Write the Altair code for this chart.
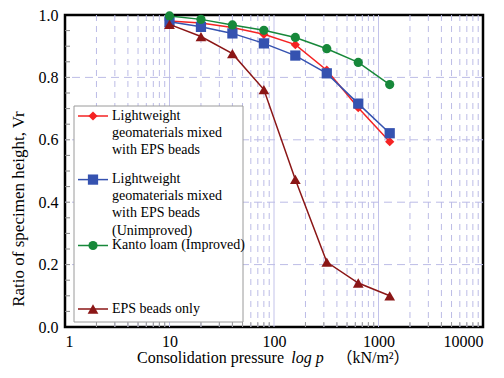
import altair as alt
import pandas as pd

# ---- data ----
pressure = [10, 20, 40, 80, 160, 320, 640, 1280]
lw_eps = [0.981, 0.974, 0.960, 0.938, 0.905, 0.823, 0.703, 0.594]
lw_eps_unimproved = [0.978, 0.962, 0.941, 0.909, 0.870, 0.813, 0.716, 0.621]
kanto_loam = [0.997, 0.986, 0.968, 0.951, 0.928, 0.892, 0.848, 0.777]
eps_only = [0.970, 0.931, 0.876, 0.761, 0.473, 0.208, 0.141, 0.100]

series_names = [
    "Lightweight geomaterials mixed with EPS beads",
    "Lightweight geomaterials mixed with EPS beads (Unimproved)",
    "Kanto loam (Improved)",
    "EPS beads only",
]
series_values = [lw_eps, lw_eps_unimproved, kanto_loam, eps_only]
series_colors = ["#f52323", "#3552b0", "#17883a", "#8b1616"]
series_shapes = ["diamond", "square", "circle", "triangle-up"]
series_sizes = [85, 105, 85, 115]

legend_labels = [
    "Lightweight\ngeomaterials mixed\nwith EPS beads",
    "Lightweight\ngeomaterials mixed\nwith EPS beads\n(Unimproved)",
    "Kanto loam (Improved)",
    "EPS beads only",
]

x_ticks = [1, 10, 100, 1000, 10000]
x_major_grid = [10, 100, 1000]
x_minor = [m * 10 ** d for d in range(4) for m in range(2, 10)]
y_ticks = [0.0, 0.2, 0.4, 0.6, 0.8, 1.0]
y_grid = [0.2, 0.4, 0.6, 0.8]
y_minor = [round(i * 0.05, 2) for i in range(1, 20)]

FONT = "Times New Roman, Liberation Serif, serif"
W, H = 418, 312

xscale = alt.Scale(type="log", domain=[1, 10000])
yscale = alt.Scale(domain=[0, 1])

rows = []
for name, vals in zip(series_names, series_values):
    for p, v in zip(pressure, vals):
        rows.append({"series": name, "p": p, "vr": v})
df = pd.DataFrame(rows)

base_x = alt.X(
    "p:Q",
    scale=xscale,
    axis=alt.Axis(
        values=x_ticks, format="d", grid=False, ticks=False, domain=False,
        labelFont=FONT, labelFontSize=16, labelColor="black", labelPadding=6,
        title=None,
    ),
)
base_y = alt.Y(
    "vr:Q",
    scale=yscale,
    axis=alt.Axis(
        values=y_ticks, format=".1f", grid=False, ticks=False, domain=False,
        labelFont=FONT, labelFontSize=16, labelColor="black", labelPadding=7,
        title=None,
    ),
)

grid_color = "#bcbce6"

minor_v = alt.Chart(pd.DataFrame({"g": x_minor})).mark_rule(
    color=grid_color, strokeWidth=1, strokeDash=[6, 5]
).encode(x=alt.X("g:Q", scale=xscale))

major_v = alt.Chart(pd.DataFrame({"g": x_major_grid})).mark_rule(
    color="#c3c3ea", strokeWidth=1
).encode(x=alt.X("g:Q", scale=xscale))

hgrid = alt.Chart(pd.DataFrame({"g": y_grid})).mark_rule(
    color=grid_color, strokeWidth=1, strokeDash=[8, 5]
).encode(y=alt.Y("g:Q", scale=yscale))

left_ticks = alt.Chart(pd.DataFrame({"t": y_minor})).mark_rule(
    color="#888888", strokeWidth=1
).encode(y=alt.Y("t:Q", scale=yscale), x=alt.value(0), x2=alt.value(5))

bottom_ticks = alt.Chart(pd.DataFrame({"t": x_minor})).mark_rule(
    color="#999999", strokeWidth=1
).encode(x=alt.X("t:Q", scale=xscale), y=alt.value(H), y2=alt.value(H - 5))

layers = [minor_v, major_v, hgrid, left_ticks, bottom_ticks]

# legend box
one = pd.DataFrame({"a": [0]})
layers.append(
    alt.Chart(one).mark_rect(fill="white", stroke="#9a9a9a", strokeWidth=1).encode(
        x=alt.value(9), x2=alt.value(178), y=alt.value(91), y2=alt.value(307)
    )
)

# data
for name, color, shape, size in zip(series_names, series_colors, series_shapes, series_sizes):
    sub = df[df.series == name]
    layers.append(
        alt.Chart(sub).mark_line(color=color, strokeWidth=1.5).encode(x=base_x, y=base_y)
    )
    layers.append(
        alt.Chart(sub).mark_point(
            shape=shape, filled=True, color=color, size=size, opacity=1
        ).encode(x=base_x, y=base_y)
    )

# legend entries
legend_y = [101, 164.6, 230.5, 294]
for lab, color, shape, size, ly in zip(legend_labels, series_colors, series_shapes, series_sizes, legend_y):
    layers.append(
        alt.Chart(one).mark_rule(color=color, strokeWidth=1.5).encode(
            x=alt.value(13), x2=alt.value(43), y=alt.value(ly)
        )
    )
    layers.append(
        alt.Chart(one).mark_point(shape=shape, filled=True, color=color, size=size, opacity=1).encode(
            x=alt.value(28), y=alt.value(ly)
        )
    )
    layers.append(
        alt.Chart(one).mark_text(
            text=lab, lineBreak="\n", lineHeight=17.2, align="left", baseline="top",
            font=FONT, fontSize=14, color="black",
        ).encode(x=alt.value(47), y=alt.value(ly - 7.5))
    )

# axis titles
layers.append(
    alt.Chart(one).mark_text(
        text="Consolidation pressure", align="center", baseline="middle",
        font=FONT, fontSize=16, color="black",
    ).encode(x=alt.value(145.5), y=alt.value(343))
)
layers.append(
    alt.Chart(one).mark_text(
        text="log p", align="center", baseline="middle",
        font=FONT, fontSize=16, fontStyle="italic", color="black",
    ).encode(x=alt.value(242.5), y=alt.value(343))
)
layers.append(
    alt.Chart(one).mark_text(
        text="（kN/m²）", align="center", baseline="middle",
        font="Times New Roman, Liberation Serif, Noto Sans CJK JP, serif", fontSize=16, color="black",
    ).encode(x=alt.value(308), y=alt.value(343))
)
layers.append(
    alt.Chart(one).mark_text(
        text="Ratio of specimen height, Vr", align="center", baseline="middle",
        angle=270, font=FONT, fontSize=17, color="black",
    ).encode(x=alt.value(-46), y=alt.value(194))
)

chart = (
    alt.layer(*layers)
    .properties(
        width=W, height=H,
        autosize=alt.AutoSizeParams(type="none"),
        padding={"left": 57, "top": 7, "right": 13, "bottom": 43},
        background="white",
    )
    .configure_view(stroke="black", strokeWidth=2.5)
)

chart.save("out.html", embed_options={"renderer": "svg", "actions": False})
